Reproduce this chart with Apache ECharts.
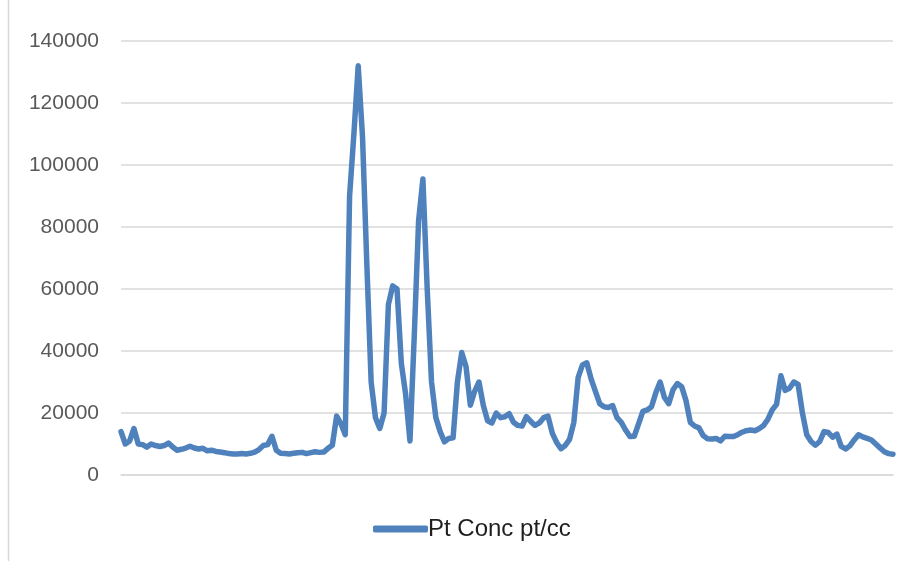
<!DOCTYPE html>
<html>
<head>
<meta charset="utf-8">
<script src="https://cdn.jsdelivr.net/npm/echarts@6/dist/echarts.min.js"></script>
<style>
  html, body { margin: 0; padding: 0; background: #ffffff; }
  #chart { width: 913px; height: 561px; }
</style>
</head>
<body>
<div id="chart"></div>
<script>
// Particle concentration readings, one per sample, in order.
const seriesName = 'Pt Conc pt/cc';
const ptConc = [
  14000, 10000, 11000, 15000, 10000, 9800, 9000, 10000, 9500, 9200,
  9500, 10300, 9000, 8000, 8300, 8700, 9300, 8700, 8400, 8600,
  7800, 8000, 7600, 7400, 7200, 6900, 6800, 6800, 6900, 6800,
  7000, 7400, 8200, 9500, 9800, 12500, 8000, 7000, 6900, 6800,
  7000, 7200, 7300, 6900, 7200, 7500, 7300, 7400, 8600, 9600,
  19000, 16500, 13000, 90000, 110000, 132000, 109000, 68000, 30000, 18500,
  15000, 20000, 55000, 61000, 60000, 36000, 26000, 11000, 45000, 82000,
  95500, 60000, 30000, 18500, 14000, 10700, 11800, 12000, 30000, 39500,
  35000, 22500, 27000, 30000, 22500, 17500, 16800, 20000, 18500, 18800,
  19800, 17000, 16000, 15800, 18800, 17300, 16000, 16800, 18500, 19000,
  13500, 10500, 8500, 9500, 11500, 17000, 31500, 35500, 36200, 31000,
  27000, 23000, 22000, 21800, 22400, 18500, 17000, 14500, 12400, 12500,
  16500, 20500, 21000, 22000, 26500, 30000, 25000, 23000, 27500, 29500,
  28500, 24000, 17000, 15800, 15200, 12700, 11700, 11600, 11800, 11000,
  12500, 12400, 12400, 13000, 13800, 14300, 14500, 14300, 15000, 16000,
  18000, 21000, 22800, 32000, 27300, 28000, 30000, 29200, 20000, 13000,
  10800, 9600, 10800, 14000, 13700, 12200, 13200, 9200, 8400, 9400,
  11300, 13000, 12300, 11800, 11300, 10000, 8700, 7500, 6900, 6700
];
// Sample numbers along the category axis (labels are not shown).
const samples = ptConc.map((_, i) => String(i + 1));
const yTicks = { min: 0, max: 140000, step: 20000 };

const chart = echarts.init(document.getElementById('chart'), null, { renderer: 'canvas' });
chart.setOption({
  animation: false,
  backgroundColor: '#ffffff',
  textStyle: { fontFamily: 'Liberation Sans, Arial, sans-serif' },
  grid: { left: 121, right: 20, top: 41, bottom: 86, containLabel: false },
  xAxis: {
    type: 'category',
    data: samples,
    boundaryGap: false,
    axisLine: { show: true, lineStyle: { color: '#d9d9d9', width: 1.5 } },
    axisTick: { show: false },
    axisLabel: { show: false },
    splitLine: { show: false }
  },
  yAxis: {
    type: 'value',
    min: yTicks.min,
    max: yTicks.max,
    interval: yTicks.step,
    axisLine: { show: false },
    axisTick: { show: false },
    axisLabel: {
      color: '#595959',
      fontSize: 21,
      margin: 22,
      fontFamily: 'Liberation Sans, Arial, sans-serif',
      formatter: (v) => String(v)
    },
    splitLine: { show: true, lineStyle: { color: '#d9d9d9', width: 1.5 } }
  },
  legend: {
    left: 368,
    top: 512,
    icon: 'roundRect',
    itemWidth: 55,
    itemHeight: 7,
    itemGap: 10,
    itemStyle: { color: '#4f81bd', borderWidth: 0 },
    lineStyle: { width: 0 },
    textStyle: {
      color: '#1f1f1f',
      fontSize: 24,
      padding: [0, 0, 0, -5],
      fontFamily: 'Liberation Sans, Arial, sans-serif'
    },
    data: [seriesName]
  },
  graphic: [{
    type: 'line',
    shape: { x1: 8.5, y1: 0, x2: 8.5, y2: 561 },
    style: { stroke: '#d9d9d9', lineWidth: 1.5 },
    silent: true
  }],
  series: [{
    name: seriesName,
    type: 'line',
    data: ptConc,
    symbol: 'none',
    smooth: false,
    lineStyle: { color: '#4f81bd', width: 5.5, cap: 'round', join: 'round' },
    itemStyle: { color: '#4f81bd' }
  }]
});
</script>
</body>
</html>
